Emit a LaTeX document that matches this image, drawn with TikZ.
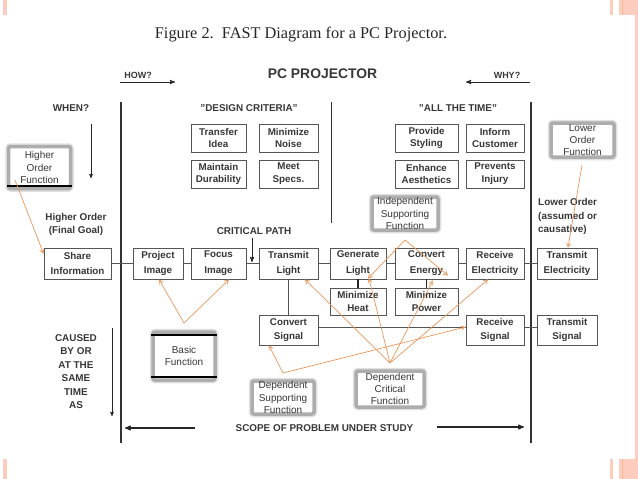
\documentclass[tikz,border=0pt]{standalone}
\usepackage{fontspec}
\setmainfont{Liberation Serif}
\setsansfont{Liberation Sans}
\usetikzlibrary{
  arrows,
  calc
}
\definecolor{slidebar}{RGB}{252,205,190}
\definecolor{callarrow}{RGB}{232,150,90}
\definecolor{boxgray}{RGB}{85,85,85}
\definecolor{inkgray}{RGB}{55,55,55}

\begin{document}
\begin{tikzpicture}[
      x=1pt,y=-1pt,
      func/.style 2 args={
         rectangle,
         minimum width=#1,
         minimum height=#2,
         inner sep=0pt,
         draw=boxgray,
         line width=0.9pt,
         fill=white,
         text=inkgray,
         align=center,
         font=\sffamily\bfseries\fontsize{9.8}{12.8}\selectfont
      },
      heading/.style={
         inner sep=0pt,
         text=inkgray,
         align=center,
         font=\sffamily\bfseries\fontsize{9.9}{13.5}\selectfont
      },
      callout/.style 2 args={
         rectangle,
         minimum width=#1,
         minimum height=#2,
         inner sep=0pt,
         rounded corners=2pt,
         draw=black!32,
         line width=3.5pt,
         fill=white,
         text=inkgray,
         align=center,
         font=\sffamily\fontsize{10}{12.2}\selectfont,
         preaction={draw=black!12,line width=6.5pt}
      },
      link/.style={draw=boxgray,line width=0.9pt},
      rail/.style={draw=black!80,line width=1.5pt},
      tip/.style={->,>=stealth',draw=black!85,line width=0.9pt},
      note/.style={->,>=angle 60,draw=callarrow,line width=0.7pt},
    ]
    \useasboundingbox (0,0) rectangle (638,479);

    % slide corners
    \fill[slidebar] (635,0) rectangle (638,479);
    \fill[slidebar] (610,0) rectangle (613,15);
    \fill[slidebar] (619,0) rectangle (638,15);
    \fill[slidebar!75!orange] (621.5,0) rectangle (622.5,15);
    \fill[slidebar] (610,459) rectangle (613,479);
    \fill[slidebar] (619,459) rectangle (638,479);
    \fill[slidebar!75!orange] (621.5,459) rectangle (622.5,479);
    \fill[slidebar] (3,0) rectangle (7,15);
    \fill[slidebar] (3,459) rectangle (7,479);

    \node (title) [inner sep=0pt,font=\fontsize{16.3}{20}\selectfont,text=black!85] at (301,35) {Figure 2.\ \ FAST Diagram for a PC Projector.};
    \node (product) [heading,font=\sffamily\bfseries\fontsize{13.9}{16}\selectfont] at (322.5,74) {PC PROJECTOR};

    % rails
    \coordinate (railAtop) at (121,102);
    \coordinate (railAbot) at (121,443);
    \coordinate (railBtop) at (331,102);
    \coordinate (railBbot) at (331,223);
    \coordinate (railCtop) at (531,102);
    \coordinate (railCbot) at (531,443);
    \draw[rail] (railAtop) -- (railAbot);
    \draw[rail,line width=1pt] (railBtop) -- (railBbot);
    \draw[rail] (railCtop) -- (railCbot);

    % headings
    \node (how) [heading,font=\sffamily\bfseries\fontsize{9}{11}\selectfont] at (138,75) {HOW?};
    \node (why) [heading,font=\sffamily\bfseries\fontsize{9}{11}\selectfont] at (507,75) {WHY?};
    \node (when) [heading] at (71,108) {WHEN?};
    \node (design) [heading] at (249,108) {"DESIGN CRITERIA"};
    \node (always) [heading] at (458,108) {"ALL THE TIME"};
    \node (higher) [heading] at (76,224.5) {Higher Order\\(Final Goal)};
    \node (critical) [heading] at (254,231) {CRITICAL PATH};
    \node (lower) [heading,align=left,anchor=north west] at (538,198.5) {Lower Order\\(assumed or\\causative)};
    \node (caused) [heading] at (76,371.5) {CAUSED\\BY OR\\AT THE\\SAME\\TIME\\AS};
    \node (scope) [heading] at (324.5,428) {SCOPE OF PROBLEM UNDER STUDY};

    % criteria boxes
    \node (transfer) [func={55}{28}] at (218.5,138) {Transfer\\Idea};
    \node (noise) [func={59}{28}] at (288.5,138) {Minimize\\Noise};
    \node (durability) [func={55}{28}] at (218.5,174) {Maintain\\Durability};
    \node (specs) [func={59}{28}] at (288.5,174) {Meet\\Specs.};
    \node (styling) [func={63}{28}] at (426.5,138) {Provide\\Styling};
    \node (inform) [func={58}{28}] at (495,138) {Inform\\Customer};
    \node (aesthetics) [func={63}{28}] at (426.5,174) {Enhance\\Aesthetics};
    \node (injury) [func={58}{28}] at (495,174) {Prevents\\Injury};

    % critical path
    \node (share) [func={67}{31}] at (77.5,263.5) {Share\\[3pt]Information};
    \node (project) [func={50}{31}] at (158,263.5) {Project\\[3pt]Image};
    \node (focus) [func={55}{31}] at (218.5,263.5) {Focus\\[3pt]Image};
    \node (light) [func={59}{31}] at (288.5,263.5) {Transmit\\[3pt]Light};
    \node (generate) [func={56}{31}] at (358,263.5) {Generate\\[3pt]Light};
    \node (energy) [func={63}{31}] at (426.5,263.5) {Convert\\[3pt]Energy};
    \node (electricity) [func={58}{31}] at (495,263.5) {Receive\\[3pt]Electricity};
    \node (sendpower) [func={60}{31}] at (567,263.5) {Transmit\\[3pt]Electricity};

    % lower rows
    \node (heat) [func={56}{27}] at (358,301.5) {Minimize\\Heat};
    \node (power) [func={63}{27}] at (426.5,301.5) {Minimize\\Power};
    \node (convsig) [func={59}{30}] at (288.5,330) {Convert\\[1pt]Signal};
    \node (recvsig) [func={58}{30}] at (495,330) {Receive\\[1pt]Signal};
    \node (sendsig) [func={60}{30}] at (567,330) {Transmit\\[1pt]Signal};

    % function links
    \coordinate (sigline) at (0,327);
    \draw[link] (share) -- (project);
    \draw[link] (project) -- (focus);
    \draw[link] (focus) -- (light);
    \draw[link] (light) -- (generate);
    \draw[link] (generate) -- (energy);
    \draw[link] (energy) -- (electricity);
    \draw[link] (electricity) -- (sendpower);
    \draw[link] (light) -- (convsig);
    \draw[link] (convsig.east |- sigline) -- (recvsig.west |- sigline);
    \draw[link] (recvsig.east |- sigline) -- (sendsig.west |- sigline);
    \draw[draw=black!85,line width=1.3pt] (generate) -- (heat);
    \draw[draw=black!85,line width=1.3pt] (energy) -- (power);

    % plain arrows
    \coordinate (howA) at (120,82);
    \coordinate (howB) at (175,82);
    \coordinate (whyA) at (530,82);
    \coordinate (whyB) at (466,82);
    \coordinate (whenA) at (91,124);
    \coordinate (whenB) at (91,178);
    \coordinate (causeA) at (112,328);
    \coordinate (causeB) at (112,416);
    \coordinate (scopeA) at (195,428);
    \coordinate (scopeB) at (125,428);
    \coordinate (scopeC) at (437,427);
    \coordinate (scopeD) at (524,427);
    \coordinate (pathA) at (252,238);
    \coordinate (pathB) at (252,262);
    \draw[tip] (howA) -- (howB);
    \draw[tip] (whyA) -- (whyB);
    \draw[tip,line width=0.6pt] (whenA) -- (whenB);
    \draw[tip,line width=0.6pt] (causeA) -- (causeB);
    \draw[tip,line width=1.1pt] (scopeA) -- (scopeB);
    \draw[tip,line width=1.1pt] (scopeC) -- (scopeD);
    \draw[tip] (pathA) -- (pathB);

    % callouts
    \node (hof) [callout={62}{42}] at (39.5,167.5) {Higher\\Order\\Function};
    \node (lof) [callout={63}{34}] at (582.5,140) {Lower\\Order\\Function};
    \node (isf) [callout={66}{33}] at (405,213.5) {Independent\\Supporting\\Function};
    \node (bf) [callout={62}{48}] at (184,356) {Basic\\Function};
    \node (dsf) [callout={62}{33}] at (283,397.5) {Dependent\\Supporting\\Function};
    \node (dcf) [callout={68}{36}] at (390,389) {Dependent\\Critical\\Function};
    \coordinate (hofline) at (0,186);
    \coordinate (bfhigh) at (0,335);
    \coordinate (bflow) at (0,377);
    \draw[draw=black,line width=1.2pt] (hof.west |- hofline) -- (hof.east |- hofline);
    \draw[draw=black,line width=1.2pt] (bf.west |- bfhigh) -- (bf.east |- bfhigh);
    \draw[draw=black,line width=1.2pt] (bf.west |- bflow) -- (bf.east |- bflow);

    % callout pointers
    \coordinate (hofFoot) at (15,180);
    \coordinate (lofFoot) at (582,165);
    \coordinate (isfApex) at (405,240);
    \coordinate (bfApex) at (184,323);
    \coordinate (dsfApex) at (283,373);
    \coordinate (dcfApex) at (390,363);
    \draw[note] (hofFoot) -- ([xshift=-34pt,yshift=-6pt]share.north);
    \draw[note] (lofFoot) -- ([xshift=1pt]sendpower.north);
    \draw[note] (bfApex) -- ([xshift=1pt]project.south);
    \draw[note] (bfApex) -- ([xshift=10.5pt]focus.south);
    \draw[note] (dsfApex) -- ([xshift=-19.5pt]convsig.south);
    \draw[note] (dsfApex) -- ([yshift=3pt]recvsig.west);
    \draw[note] (isfApex) -- ([xshift=10pt,yshift=1pt]generate.south);
    \draw[note] (isfApex) -- ([xshift=21.5pt,yshift=4pt]energy.south);
    \draw[note] (dcfApex) -- ([xshift=16.5pt]light.south);
    \draw[note] (dcfApex) -- ([xshift=11pt,yshift=1pt]generate.south);
    \draw[note] (dcfApex) -- ([xshift=6.5pt,yshift=-1pt]energy.south);
    \draw[note] (dcfApex) -- ([xshift=-7pt]electricity.south);
\end{tikzpicture}
\end{document}
